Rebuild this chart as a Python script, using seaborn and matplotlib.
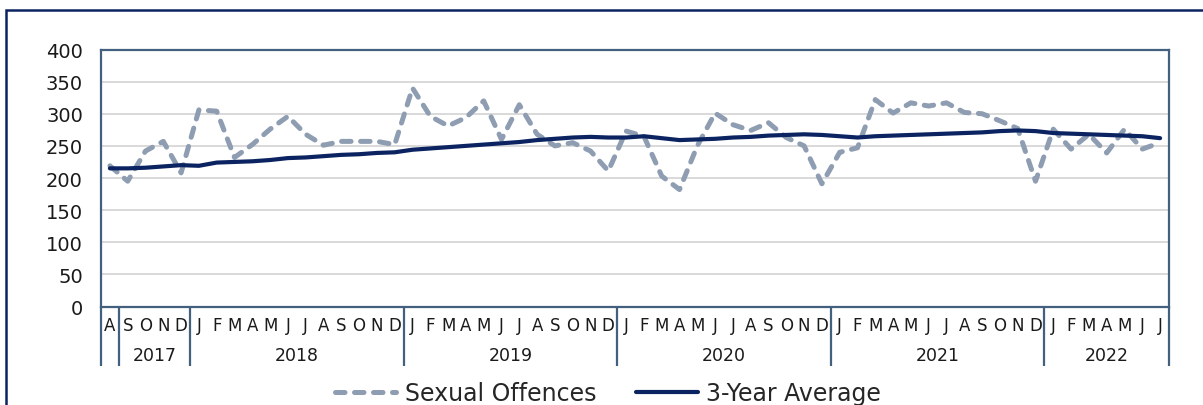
import matplotlib
matplotlib.use("Agg")
import matplotlib.pyplot as plt
import matplotlib.transforms as mtrans
from matplotlib.patches import Rectangle
import numpy as np
import pandas as pd
import seaborn as sns

# month letters, Aug 2017 .. Jul 2022
months = ['A', 'S', 'O', 'N', 'D'] + ['J', 'F', 'M', 'A', 'M', 'J', 'J', 'A', 'S', 'O', 'N', 'D'] * 4 \
    + ['J', 'F', 'M', 'A', 'M', 'J', 'J']
years = ['', '2017', '2018', '2019', '2020', '2021', '2022']
year_sizes = [1, 4, 12, 12, 12, 12, 7]

offences = [219, 195, 242, 257, 208,
            306, 304, 232, 252, 276, 296, 268, 251, 257, 257, 257, 252,
            340, 296, 281, 294, 320, 260, 314, 268, 250, 255, 242, 211,
            273, 265, 203, 182, 250, 301, 283, 274, 286, 263, 250, 191,
            240, 247, 322, 301, 317, 312, 317, 302, 300, 289, 277, 195,
            276, 245, 268, 239, 276, 245, 255]
average = [215, 215, 216, 218, 220,
           219, 224, 225, 226, 228, 231, 232, 234, 236, 237, 239, 240,
           244, 246, 248, 250, 252, 254, 256, 259, 261, 263, 264, 263,
           263, 265, 262, 259, 260, 261, 263, 264, 266, 267, 268, 267,
           265, 263, 265, 266, 267, 268, 269, 270, 271, 273, 274, 273,
           270, 269, 268, 267, 266, 265, 262]

df = pd.DataFrame({'pos': range(len(months)), 'offences': offences, 'average': average})

sns.set_theme(style='white')
plt.rcParams['font.family'] = ['DejaVu Sans']

navy = '#0b2461'
grey_blue = '#8e9db1'
frame = '#44607f'

fig = plt.figure(figsize=(12.03, 4.06), dpi=100)
ax = fig.add_axes([101 / 1203, 1 - 307.5 / 406, (1169 - 101) / 1203, 257 / 406])

sns.lineplot(data=df, x='pos', y='offences', ax=ax, color=grey_blue, linewidth=3.6,
             linestyle=(0, (1.9, 1.9)), dash_capstyle='round', label='Sexual Offences')
sns.lineplot(data=df, x='pos', y='average', ax=ax, color=navy, linewidth=3.0,
             label='3-Year Average')

ax.set_xlim(-0.5, len(months) - 0.5)
ax.set_ylim(0, 400)
ax.set_yticks(range(0, 401, 50))
ax.yaxis.grid(True, color='#d9d9d9', linewidth=1.4)
ax.set_axisbelow(True)
ax.set_xlabel('')
ax.set_ylabel('')
for sp in ax.spines.values():
    sp.set_color(frame)
    sp.set_linewidth(1.6)

ax.set_xticks(range(len(months)))
ax.set_xticklabels(months, fontsize=12, color='#1a1a1a')
ax.tick_params(axis='x', length=0, pad=7)
ax.tick_params(axis='y', length=0, pad=13, labelsize=14, labelcolor='#1a1a1a')

# year groups under the month letters
trans = mtrans.blended_transform_factory(ax.transData, ax.transAxes)
bounds = np.concatenate([[0], np.cumsum(year_sizes)]) - 0.5
for b in bounds:
    ax.plot([b, b], [0, -0.2315], transform=trans, color=frame, linewidth=1.6,
            clip_on=False, solid_capstyle='butt')
for yr, lo, hi in zip(years, bounds[:-1], bounds[1:]):
    if yr:
        ax.text((lo + hi) / 2, -0.189, yr, transform=trans, ha='center', va='center',
                fontsize=12.5, color='#1a1a1a')

handles, labels = ax.get_legend_handles_labels()
ax.get_legend().remove()
fig.legend(handles, labels, loc='center', bbox_to_anchor=(608 / 1203, 1 - 394 / 406),
           ncol=2, frameon=False, fontsize=17, handlelength=2.6, handletextpad=0.35,
           columnspacing=1.7)

# outer chart frame (runs off the right and bottom edges)
fig.patches.append(Rectangle((6 / 1203, -0.2), 1.2, 1.2 - 11 / 406, transform=fig.transFigure,
                             fill=False, edgecolor=navy, linewidth=1.8))

fig.savefig('out.png', dpi=100)
